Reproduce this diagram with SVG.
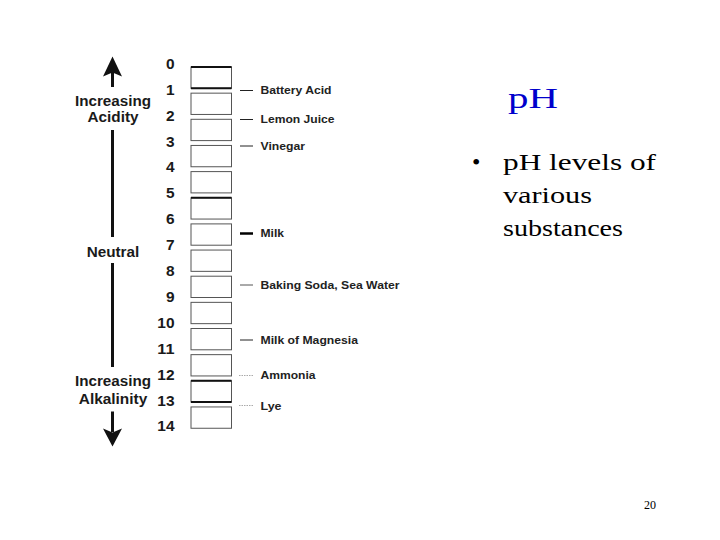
<svg xmlns="http://www.w3.org/2000/svg" width="720" height="540" viewBox="0 0 720 540">
<style>
.chart{font-family:"Liberation Sans",Arial,sans-serif;font-weight:bold;fill:#1a1a1a}
.side{font-size:14px;text-anchor:middle}
.num{font-size:14px;text-anchor:end}
.lab{font-size:11px;fill:#222}
.box{fill:#fff;stroke:#555;stroke-width:1}
.thick{stroke:#111;stroke-width:2}
.tick{stroke:#222;stroke-width:1}
.faint{stroke:#aaa;stroke-width:1;stroke-dasharray:1.5 1}
.axis{stroke:#111;stroke-width:3}
.serif{font-family:"Liberation Serif","Times New Roman",serif}
</style>
<rect width="720" height="540" fill="#fff"/>

<g id="scale-boxes">
<rect class="box" x="191" y="67" width="40.5" height="21.3"/>
<rect class="box" x="191" y="93.15" width="40.5" height="21.3"/>
<rect class="box" x="191" y="119.3" width="40.5" height="21.3"/>
<rect class="box" x="191" y="145.45" width="40.5" height="21.3"/>
<rect class="box" x="191" y="171.6" width="40.5" height="21.3"/>
<rect class="box" x="191" y="197.75" width="40.5" height="21.3"/>
<rect class="box" x="191" y="223.9" width="40.5" height="21.3"/>
<rect class="box" x="191" y="250.05" width="40.5" height="21.3"/>
<rect class="box" x="191" y="276.2" width="40.5" height="21.3"/>
<rect class="box" x="191" y="302.35" width="40.5" height="21.3"/>
<rect class="box" x="191" y="328.5" width="40.5" height="21.3"/>
<rect class="box" x="191" y="354.65" width="40.5" height="21.3"/>
<rect class="box" x="191" y="380.8" width="40.5" height="21.3"/>
<rect class="box" x="191" y="406.95" width="40.5" height="21.3"/>
<line class="thick" x1="191" y1="67" x2="231.5" y2="67"/>
<line class="thick" x1="191" y1="88.3" x2="231.5" y2="88.3"/>
<line class="thick" x1="191" y1="197.75" x2="231.5" y2="197.75"/>
<line class="thick" x1="191" y1="380.8" x2="231.5" y2="380.8"/>
<line class="thick" x1="191" y1="402.1" x2="231.5" y2="402.1"/>
</g>

<g id="scale-numbers" class="chart num">
<text x="174.5" y="68.8" textLength="8.6" lengthAdjust="spacingAndGlyphs">0</text>
<text x="174.5" y="94.7" textLength="8.6" lengthAdjust="spacingAndGlyphs">1</text>
<text x="174.5" y="120.6" textLength="8.6" lengthAdjust="spacingAndGlyphs">2</text>
<text x="174.5" y="146.5" textLength="8.6" lengthAdjust="spacingAndGlyphs">3</text>
<text x="174.5" y="172.4" textLength="8.6" lengthAdjust="spacingAndGlyphs">4</text>
<text x="174.5" y="198.3" textLength="8.6" lengthAdjust="spacingAndGlyphs">5</text>
<text x="174.5" y="224.2" textLength="8.6" lengthAdjust="spacingAndGlyphs">6</text>
<text x="174.5" y="250.1" textLength="8.6" lengthAdjust="spacingAndGlyphs">7</text>
<text x="174.5" y="276" textLength="8.6" lengthAdjust="spacingAndGlyphs">8</text>
<text x="174.5" y="301.9" textLength="8.6" lengthAdjust="spacingAndGlyphs">9</text>
<text x="174.5" y="327.8" textLength="17.2" lengthAdjust="spacingAndGlyphs">10</text>
<text x="174.5" y="353.7" textLength="17.2" lengthAdjust="spacingAndGlyphs">11</text>
<text x="174.5" y="379.6" textLength="17.2" lengthAdjust="spacingAndGlyphs">12</text>
<text x="174.5" y="405.5" textLength="17.2" lengthAdjust="spacingAndGlyphs">13</text>
<text x="174.5" y="431.4" textLength="17.2" lengthAdjust="spacingAndGlyphs">14</text>
</g>

<g id="acidity-label" class="chart side">
<text x="113" y="105.5" textLength="76" lengthAdjust="spacingAndGlyphs">Increasing</text>
<text x="113" y="122" textLength="51" lengthAdjust="spacingAndGlyphs">Acidity</text>
</g>
<g id="neutral-label" class="chart side">
<text x="113" y="256.7" textLength="52.6" lengthAdjust="spacingAndGlyphs">Neutral</text>
</g>
<g id="alkalinity-label" class="chart side">
<text x="113" y="386" textLength="76" lengthAdjust="spacingAndGlyphs">Increasing</text>
<text x="113" y="403.5" textLength="68.5" lengthAdjust="spacingAndGlyphs">Alkalinity</text>
</g>

<g id="substance-labels" class="chart lab">
<text x="260.5" y="94" textLength="71" lengthAdjust="spacingAndGlyphs">Battery Acid</text>
<text x="260.5" y="123.3" textLength="74" lengthAdjust="spacingAndGlyphs">Lemon Juice</text>
<text x="260.5" y="150" textLength="44.5" lengthAdjust="spacingAndGlyphs">Vinegar</text>
<text x="260.5" y="237.3" textLength="23.5" lengthAdjust="spacingAndGlyphs">Milk</text>
<text x="260.5" y="289" textLength="139" lengthAdjust="spacingAndGlyphs">Baking Soda, Sea Water</text>
<text x="260.5" y="344" textLength="97.5" lengthAdjust="spacingAndGlyphs">Milk of Magnesia</text>
<text x="260.5" y="379.2" textLength="55" lengthAdjust="spacingAndGlyphs">Ammonia</text>
<text x="260.5" y="409.5" textLength="21" lengthAdjust="spacingAndGlyphs">Lye</text>
</g>

<g id="connectors">
<line class="axis" x1="112.5" y1="72" x2="112.5" y2="87"/>
<line class="axis" x1="112.5" y1="130" x2="112.5" y2="237"/>
<line class="axis" x1="112.5" y1="263" x2="112.5" y2="367"/>
<line class="axis" x1="112.5" y1="411.5" x2="112.5" y2="432"/>
<polygon points="112.5,56.5 103,76.5 112.5,72.5 122,76.5" fill="#111"/>
<polygon points="112.5,446.5 103,428.5 112.5,432.5 122,428.5" fill="#111"/>
<line class="tick" x1="240" y1="90.5" x2="253" y2="90.5"/>
<line class="tick" x1="240" y1="119.5" x2="253" y2="119.5"/>
<line class="tick" x1="240" y1="146" x2="253" y2="146"/>
<line class="tick" x1="240" y1="233.5" x2="253" y2="233.5" style="stroke-width:2.5;stroke:#000"/>
<line class="tick" x1="240" y1="285" x2="253" y2="285" style="stroke:#555"/>
<line class="tick" x1="240" y1="340" x2="253" y2="340"/>
<line class="faint" x1="239" y1="375.5" x2="254" y2="375.5"/>
<line class="faint" x1="239" y1="405.5" x2="254" y2="405.5"/>
</g>

<g id="title">
<text class="serif" x="508" y="108" font-size="29" fill="#0000cc" textLength="50" lengthAdjust="spacingAndGlyphs">pH</text>
</g>

<g id="bullet" class="serif" font-size="24" fill="#000">
<text x="472" y="170">•</text>
<text x="503" y="170" textLength="153" lengthAdjust="spacingAndGlyphs">pH levels of</text>
<text x="503" y="203" textLength="89" lengthAdjust="spacingAndGlyphs">various</text>
<text x="503" y="236" textLength="120" lengthAdjust="spacingAndGlyphs">substances</text>
</g>

<g id="page-number">
<text class="serif" x="644" y="509" font-size="12" fill="#000">20</text>
</g>
</svg>
